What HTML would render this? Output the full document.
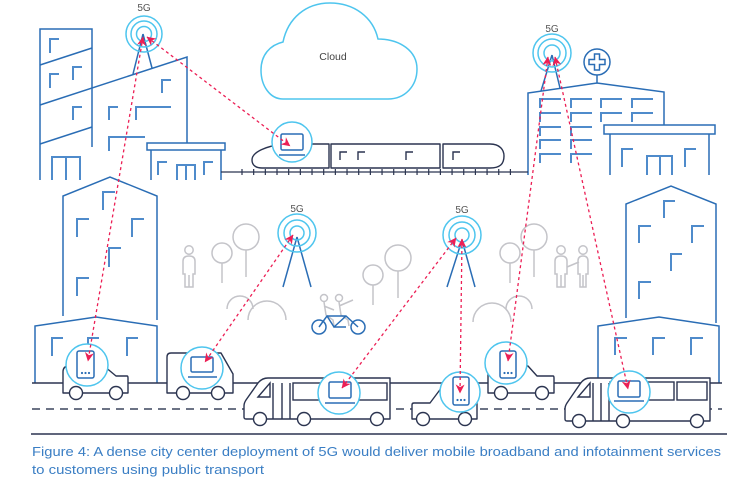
<!DOCTYPE html>
<html><head><meta charset="utf-8"><style>
html,body{margin:0;padding:0;background:#fff;}
svg{display:block;}
.b{fill:none;stroke:#2a6db5;stroke-width:1.5;stroke-linejoin:miter;}
.w{fill:none;stroke:#4f8bcb;stroke-width:2;}
.wd{fill:none;stroke:#2a6db5;stroke-width:1.6;}
.c{fill:none;stroke:#4ec5ee;stroke-width:1.5;}
.cf{fill:#fff;stroke:#4ec5ee;stroke-width:1.5;}
.v{fill:#fff;stroke:#2b3450;stroke-width:1.4;stroke-linejoin:round;}
.vl{fill:none;stroke:#2b3450;stroke-width:1.4;}
.g{fill:none;stroke:#c4c4c9;stroke-width:1.5;}
.r{fill:none;stroke:#ec1f55;stroke-width:1.3;stroke-dasharray:3 3;}
.d{fill:#fff;stroke:#2a6db5;stroke-width:1.5;}
.t{font-family:"Liberation Sans",sans-serif;font-size:10px;fill:#555;text-anchor:middle;}
</style></head><body>
<svg width="744" height="490" viewBox="0 0 744 490" xmlns="http://www.w3.org/2000/svg">
<defs>
<marker id="a" viewBox="0 0 10 10" refX="9.5" refY="5" markerWidth="11" markerHeight="9" markerUnits="userSpaceOnUse" orient="auto-start-reverse">
<path d="M0,0 L10,5 L0,10 L3,5 Z" fill="#ec1f55"/>
</marker>
</defs>

<!-- upper-left buildings -->
<path class="b" d="M40,180 V29 H92 V147"/>
<path class="b" d="M40,65 L92,48 M40,105 L187,57 V143 M40,144 L92,127"/>
<path class="w" d="M50,53 V39 H59 M50,88 V74 H59 M73,80 V67 H82 M73,120 V107 H82 M109,120 V107 H118 M136,120 V107 H171 M162,93 V80 H171 M109,151 V137 H145"/>
<path class="w" d="M52,180 V157 H80 V180 M66,157 V180"/>
<rect class="b" x="147" y="143" width="78" height="7" fill="#fff"/>
<path class="b" d="M151,150 V180 M221,150 V180"/>
<path class="w" d="M158,175 V162 H167 M204,175 V162 H213 M177,180 V165 H195 V180 M186,165 V180"/>
<!-- tower legs left -->
<path class="b" d="M143,34 L133,74 M143,34 L152,68"/>

<!-- hospital -->
<path class="b" d="M528,175 V93 L597,83 L664,92 V125"/>
<circle class="b" cx="597" cy="62" r="13"/>
<path class="b" d="M597,75 V83"/>
<path class="b" d="M594.5,54 H599.5 V59.5 H605 V64.5 H599.5 V70 H594.5 V64.5 H589 V59.5 H594.5 Z"/>
<path class="w" d="M540,108 V99 H561 M571,108 V99 H592 M601,108 V99 H622 M632,108 V99 H653
M540,122 V113 H561 M571,122 V113 H592 M601,122 V113 H622 M632,122 V113 H653
M540,136 V127 H561 M571,136 V127 H592
M540,149 V140 H561 M571,149 V140 H592
M540,163 V154 H561 M571,163 V154 H592"/>
<rect class="b" x="604" y="125" width="111" height="9" fill="#fff"/>
<path class="b" d="M610,134 V175 M709,134 V175"/>
<path class="w" d="M622,167 V149 H633 M685,167 V149 H696 M647,175 V156 H672 V175 M660,156 V175"/>
<path class="b" d="M552,55 L541,91 M552,55 L560,88"/>

<!-- cloud -->
<path class="cf" d="M283,99 C270,99 261,86 261,70 C261,55 270,45 283,42 C288,18 306,3 330,3 C354,3 373,17 378,39 C400,39 417,51 417,69 C417,86 405,99 388,99 Z"/>
<text x="333" y="60" class="t" style="fill:#444;font-size:10.5px">Cloud</text>

<!-- track -->
<line x1="221" y1="172" x2="528" y2="172" stroke="#2b3450" stroke-width="1.3"/>
<line x1="241.4" y1="172" x2="512" y2="172" stroke="#2b3450" stroke-width="6" stroke-dasharray="1.2 10.47"/>
<!-- train -->
<path class="v" d="M329,144 H284 C266,146 252,152 252,160 C252,166 257,168 262,168 H329 Z"/>
<path class="v" d="M331,144 H440 V168 H331 Z"/>
<path class="v" d="M443,144 H490 C500,144 504,150 504,156 C504,164 500,168 490,168 H443 Z"/>
<path class="vl" d="M340,160 V152 H347 M358,160 V152 H365 M406,160 V152 H413 M453,160 V152 H460"/>

<!-- left mid building -->
<path class="b" d="M63,316 V196 L110,177 L157,196 V320"/>
<path class="w" d="M103,210 V192 H115 M77,237 V219 H89 M132,237 V219 H144 M109,267 V248 H121 M77,296 V278 H89"/>
<!-- left lower building -->
<path class="b" d="M35,383 V326 L96,317 L157,326 V383"/>
<path class="w" d="M52,356 V338 H63 M88,356 V338 H99 M127,356 V338 H138"/>
<!-- right mid building -->
<path class="b" d="M626,318 V204 L671,186 L716,204 V323"/>
<path class="w" d="M664,218 V201 H675 M639,243 V226 H651 M692,243 V226 H704 M671,271 V254 H682 M639,299 V282 H651"/>
<!-- right lower building -->
<path class="b" d="M598,383 V326 L659,317 L719,326 V383"/>
<path class="w" d="M615,355 V338 H627 M653,355 V338 H665 M691,355 V338 H703"/>

<!-- trees, bushes, people -->
<g class="g">
<circle cx="222" cy="253" r="10"/><path d="M222,263 V283"/>
<circle cx="246" cy="237" r="13"/><path d="M246,250 V277"/>
<circle cx="373" cy="275" r="10"/><path d="M373,285 V305"/>
<circle cx="398" cy="258" r="13"/><path d="M398,271 V298"/>
<circle cx="510" cy="253" r="10"/><path d="M510,263 V283"/>
<circle cx="534" cy="237" r="13"/><path d="M534,250 V277"/>
<path d="M227,309 A13,13 0 0 1 253,309"/>
<path d="M248,320 A19,19 0 0 1 286,320"/>
<path d="M473,322 A19,19 0 0 1 511,322"/>
<path d="M506,309 A13,13 0 0 1 532,309"/>
<circle cx="189" cy="250" r="4.2"/>
<path d="M183,274 V261 Q183,256 189,256 Q195,256 195,261 V274 H193 V287 H185 V274 Z M189,275 V287"/>
<circle cx="561" cy="250" r="4.2"/>
<path d="M555,274 V261 Q555,256 561,256 Q567,256 567,261 V274 H565 V287 H557 V274 Z M561,275 V287"/>
<circle cx="583" cy="250" r="4.2"/>
<path d="M578,274 V261 Q578,256 583,256 Q588,256 588,261 V274 H586 V287 H580 V274 Z M583,275 V287 M579,262 L567,267"/>
<!-- riders -->
<circle cx="324" cy="298" r="3.5"/><circle cx="339" cy="298" r="3.5"/>
<path d="M324,302 L326,315 L333,320 L334,326 M339,302 L341,315 L348,320 L349,326 M339,306 L353,300 M324,306 L334,310"/>
</g>
<!-- bicycle -->
<g class="b">
<circle cx="319" cy="327" r="7"/><circle cx="358" cy="327" r="7"/>
<path d="M319,327 L327,316 L346,316 L358,327 M327,316 L334,327 L346,316 M334,327 L346,327"/>
</g>

<!-- towers middle -->
<path class="b" d="M297,237 L283,287 M297,237 L311,287"/>
<path class="b" d="M462,240 L447,287 M462,240 L475,287"/>

<!-- tower rings -->
<g class="c">
<circle cx="144" cy="34" r="18"/><circle cx="144" cy="34" r="13"/><circle cx="144" cy="34" r="7.5"/>
<circle cx="552" cy="53" r="19"/><circle cx="552" cy="53" r="14"/><circle cx="552" cy="53" r="8"/>
<circle cx="297" cy="233" r="19"/><circle cx="297" cy="233" r="13"/><circle cx="297" cy="233" r="7"/>
<circle cx="462" cy="235" r="19"/><circle cx="462" cy="235" r="13"/><circle cx="462" cy="235" r="7"/>
</g>
<text x="144" y="11" class="t">5G</text>
<text x="552" y="32" class="t">5G</text>
<text x="297" y="212" class="t">5G</text>
<text x="462" y="213" class="t">5G</text>

<!-- ground and road -->
<line x1="32" y1="383" x2="722" y2="383" stroke="#2b3450" stroke-width="1.5"/>
<line x1="32" y1="409" x2="722" y2="409" stroke="#6c7385" stroke-width="2" stroke-dasharray="8 6"/>

<!-- vehicles -->
<path class="v" d="M63,393 V372 Q63,366 69,366 H104 L116,376 H127 Q128,376 128,378 V393 Z"/>
<circle class="v" cx="76" cy="393" r="6.5"/><circle class="v" cx="116" cy="393" r="6.5"/>

<path class="v" d="M167,393 V357 Q167,353 171,353 H221 L233,374 V393 Z"/>
<circle class="v" cx="183" cy="393" r="6.5"/><circle class="v" cx="218" cy="393" r="6.5"/>

<path class="v" d="M390,378 V419 H246 Q244,419 244,417 V406 Q244,403 246,400 L258,383 Q262,378 268,378 Z"/>
<path class="vl" d="M258,397 L270,383 V397 Z M273,383 V419 M282,383 V419 M290,383 V419"/>
<rect class="vl" x="293" y="383" width="94" height="17"/>
<circle class="v" cx="260" cy="419" r="6.5"/><circle class="v" cx="304" cy="419" r="6.5"/><circle class="v" cx="377" cy="419" r="6.5"/>

<path class="v" d="M412,419 V405 Q412,403 414,403 H430 L442,387 H477 V419 Z"/>
<circle class="v" cx="423" cy="419" r="6.5"/><circle class="v" cx="465" cy="419" r="6.5"/>

<path class="v" d="M488,393 V372 Q488,366 494,366 H528 L537,376 H553 Q554,376 554,378 V393 Z"/>
<circle class="v" cx="501" cy="393" r="6.5"/><circle class="v" cx="542" cy="393" r="6.5"/>

<path class="v" d="M710,378 V421 H567 Q565,421 565,419 V409 Q565,406 567,403 L580,384 Q584,378 590,378 Z"/>
<path class="vl" d="M578,397 L590,383 V397 Z M593,383 V421 M601,383 V421 M609,383 V421"/>
<rect class="vl" x="610" y="382" width="64" height="18"/>
<rect class="vl" x="677" y="382" width="30" height="18"/>
<circle class="v" cx="579" cy="421" r="6.5"/><circle class="v" cx="623" cy="421" r="6.5"/><circle class="v" cx="697" cy="421" r="6.5"/>

<!-- device circles -->
<circle class="cf" cx="87" cy="365" r="21"/>
<circle class="cf" cx="202" cy="368" r="21"/>
<circle class="cf" cx="292" cy="142" r="20"/>
<circle class="cf" cx="339" cy="393" r="21"/>
<circle class="cf" cx="460" cy="392" r="20"/>
<circle class="cf" cx="506" cy="363" r="21"/>
<circle class="cf" cx="629" cy="392" r="21"/>

<!-- devices -->
<rect class="d" x="77" y="351" width="17" height="27" rx="2"/>
<g fill="#2a6db5"><circle cx="82" cy="373" r="1.1"/><circle cx="85.5" cy="373" r="1.1"/><circle cx="89" cy="373" r="1.1"/></g>
<rect class="d" x="191" y="357" width="22" height="15" rx="1.5"/>
<path class="b" d="M188,377 H217"/>
<rect class="d" x="281" y="134" width="22" height="16" rx="1.5"/>
<path class="b" d="M279,155 H305"/>
<rect class="d" x="329" y="382" width="22" height="16" rx="1.5"/>
<path class="b" d="M325,403 H355"/>
<rect class="d" x="453" y="377" width="16" height="28" rx="2"/>
<g fill="#2a6db5"><circle cx="457.5" cy="400" r="1.1"/><circle cx="461" cy="400" r="1.1"/><circle cx="464.5" cy="400" r="1.1"/></g>
<rect class="d" x="500" y="351" width="16" height="27" rx="2"/>
<g fill="#2a6db5"><circle cx="504.5" cy="373" r="1.1"/><circle cx="508" cy="373" r="1.1"/><circle cx="511.5" cy="373" r="1.1"/></g>
<rect class="d" x="618" y="381" width="22" height="16" rx="1.5"/>
<path class="b" d="M614,401 H644"/>

<!-- red links -->
<g marker-start="url(#a)" marker-end="url(#a)">
<line class="r" x1="143" y1="37" x2="88" y2="361"/>
<line class="r" x1="147" y1="37" x2="290" y2="146"/>
<line class="r" x1="293" y1="235" x2="205" y2="362"/>
<line class="r" x1="456" y1="238" x2="342" y2="388"/>
<line class="r" x1="462" y1="239" x2="460" y2="393"/>
<line class="r" x1="548" y1="57" x2="508" y2="361"/>
<line class="r" x1="555" y1="57" x2="628" y2="389"/>
</g>

<!-- separator and caption -->
<line x1="31" y1="434" x2="727" y2="434" stroke="#2b3450" stroke-width="1.5"/>
<text x="32" y="456" font-family="Liberation Sans, sans-serif" font-size="13" fill="#3a7ec4" textLength="689" lengthAdjust="spacingAndGlyphs">Figure 4: A dense city center deployment of 5G would deliver mobile broadband and infotainment services</text>
<text x="32" y="474" font-family="Liberation Sans, sans-serif" font-size="13" fill="#3a7ec4" textLength="232" lengthAdjust="spacingAndGlyphs">to customers using public transport</text>
</svg>
</body></html>
